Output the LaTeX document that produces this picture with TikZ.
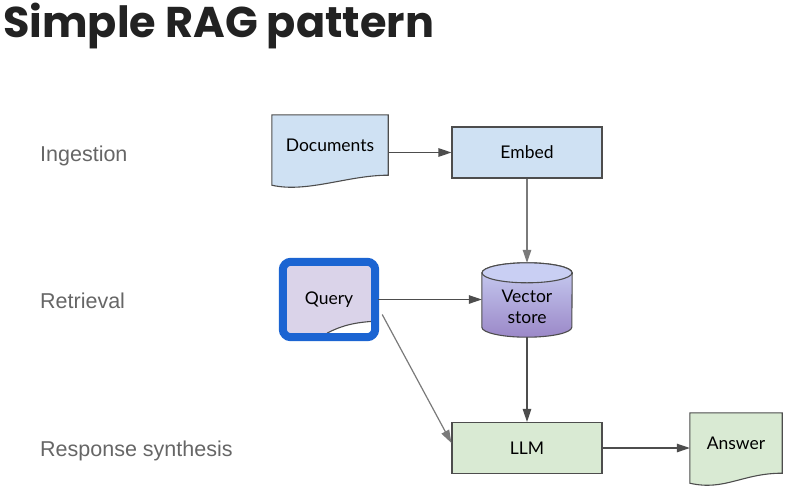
\documentclass[tikz,border=0pt]{standalone}
\usepackage{fontspec}
\setmainfont{Lato}
\newfontfamily\titlefont{Poppins}
\newfontfamily\stagefont{Liberation Sans}
\usetikzlibrary{calc,arrows.meta,backgrounds}
\definecolor{linec}{HTML}{4D4D4D}
\definecolor{grayc}{HTML}{7A7A7A}
\definecolor{stagec}{HTML}{666666}
\definecolor{titlec}{HTML}{222222}
\definecolor{bluef}{HTML}{CFE1F3}
\definecolor{greenf}{HTML}{D9EAD3}
\definecolor{lavf}{HTML}{DAD3E9}
\definecolor{framec}{HTML}{1B64D2}
\definecolor{vtop}{HTML}{C9CFF3}
\definecolor{vbot}{HTML}{9B88C8}
\newcommand{\docshape}[2]{
	\begin{pgfonlayer}{background}
	\fill[#2, draw=linec, line width=1.1pt] (#1.north west) -- (#1.north east) -- (#1.south east)
		.. controls ($(#1.south east)+(-40,0)$) and ($(#1.south west)+(35,18)$) .. ($(#1.south west)+(0,10)$) -- cycle;
	\end{pgfonlayer}
}
\tikzset{
	box/.style={draw=linec, line width=1.1pt, minimum width=150pt, minimum height=51pt, font=\fontsize{17.5}{21}\selectfont},
	doc/.style={minimum width=#1, minimum height=60pt, inner sep=0pt, font=\fontsize{17.5}{21}\selectfont},
	stage/.style={anchor=base west, inner sep=0pt, text=stagec, font=\stagefont\fontsize{21.5}{25}\selectfont},
	arr/.style={draw=linec, line width=1.2pt, -{Triangle[length=13pt,width=8.5pt]}},
	arrgray/.style={arr, draw=grayc}
}

\begin{document}
\begin{tikzpicture}[x=1pt,y=-1pt]
	\useasboundingbox (0,0) rectangle (797,493);
	\node[anchor=base west, inner sep=0pt, text=titlec, font=\titlefont\bfseries\fontsize{43}{50}\selectfont] (title) at (3,37) {Simple RAG pattern};

	\node[stage] (ingest) at (40,161) {Ingestion};
	\node[stage] (retrieve) at (40,308) {Retrieval};
	\node[stage] (synth) at (40,456) {Response synthesis};

	\node[doc=116pt] (docs) at (330,145) {Documents};
	\docshape{docs}{bluef}
	\node[box, fill=bluef] (embed) at (527,152.5) {Embed};

	% query, highlighted
	\node[minimum width=92pt, minimum height=75pt, font=\fontsize{17.5}{21}\selectfont] (query) at (329,299.5) {Query};
	\begin{pgfonlayer}{background}
	\fill[lavf, rounded corners=8pt] (query.north west) rectangle (query.south east);
	\fill[white] ($(query.south)+(-2,-4)$) .. controls ($(query.south)+(13,-12)$) and ($(query.south east)+(-19,-15)$) .. ($(query.south east)+(0,-16)$) -- (query.south east) -- cycle;
	\draw[linec, line width=1.1pt] ($(query.south)+(-2,-4)$) .. controls ($(query.south)+(13,-12)$) and ($(query.south east)+(-19,-15)$) .. ($(query.south east)+(0,-16)$);
	\end{pgfonlayer}
	\draw[framec, line width=8pt, rounded corners=8pt] (query.north west) rectangle (query.south east);

	% vector store
	\node[minimum width=90pt, minimum height=74pt, inner sep=0pt, font=\fontsize{17.5}{21}\selectfont] (vec) at (527,300) {\raisebox{-13pt}[0pt][0pt]{\begin{tabular}{@{}c@{}}Vector\\store\end{tabular}}};
	\begin{pgfonlayer}{background}
	\shade[top color=vtop, bottom color=vbot, draw=linec, line width=1.1pt] ($(vec.north west)+(0,10)$) -- ($(vec.south west)+(0,-10)$)
		arc[start angle=180, end angle=360, x radius=45pt, y radius=10pt] -- ($(vec.north east)+(0,10)$)
		arc[start angle=0, end angle=180, x radius=45pt, y radius=10pt] -- cycle;
	\draw[fill=vtop, draw=linec, line width=1.1pt] ($(vec.north)+(0,10)$) ellipse[x radius=45pt, y radius=10pt];
	\end{pgfonlayer}

	\node[box, fill=greenf] (llm) at (527,448) {LLM};
	\node[doc=92pt] (answer) at (736,443) {Answer};
	\docshape{answer}{greenf}

	\draw[arr] (docs.east |- embed.west) -- (embed.west);
	\draw[arrgray] (embed.south) -- (vec.north);
	\draw[arr, shorten <=3pt] (query.east) -- (query.east -| vec.west);
	\draw[arrgray] ([shift={(7pt,-15pt)}]query.east) -- ([yshift=5pt]llm.west);
	\draw[arr] (vec.south) -- (llm.north);
	\draw[arr] (llm.east) -- (llm.east -| answer.west);
\end{tikzpicture}
\end{document}
